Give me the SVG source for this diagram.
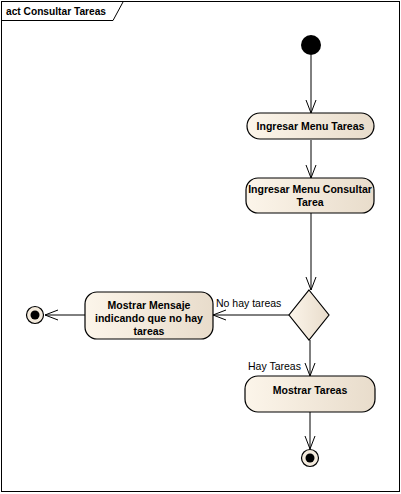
<svg xmlns="http://www.w3.org/2000/svg" width="401" height="494" viewBox="0 0 401 494">
<defs>
<linearGradient id="g" x1="0" y1="0" x2="1" y2="0">
<stop offset="0" stop-color="#FCF5EA"/>
<stop offset="1" stop-color="#E8DCCB"/>
</linearGradient>
<marker id="a" markerWidth="14" markerHeight="12" refX="13" refY="6" orient="auto" markerUnits="userSpaceOnUse">
<path d="M0,1 L13,6 L0,11" fill="none" stroke="#000" stroke-width="1"/>
</marker>
</defs>
<style>
.n{fill:url(#g);stroke:#000;stroke-width:1.2}
.t{font-family:"Liberation Sans",Arial,sans-serif;font-size:10.5px;font-weight:bold;text-anchor:middle;fill:#000}
.l{font-family:"Liberation Sans",Arial,sans-serif;font-size:10.5px;fill:#000}
.e{stroke:#000;stroke-width:1;fill:none;marker-end:url(#a)}
</style>
<rect x="0" y="0" width="401" height="494" fill="#fff"/>
<g id="frame">
<rect x="1.5" y="1.5" width="398" height="490" fill="none" stroke="#000" stroke-width="1"/>
<path d="M1.5,20.5 H113 L123,2" fill="none" stroke="#000" stroke-width="1"/>
<text x="6" y="15" class="l" style="font-weight:bold;font-size:10.2px">act Consultar Tareas</text>
</g>
<g id="connectors">
<line class="e" x1="311" y1="55" x2="311" y2="113"/>
<line class="e" x1="311" y1="140" x2="311" y2="178"/>
<line class="e" x1="311" y1="213" x2="311" y2="290"/>
<line class="e" x1="289" y1="315" x2="213" y2="315"/>
<line class="e" x1="85" y1="315" x2="45" y2="315"/>
<line class="e" x1="310" y1="340" x2="310" y2="376"/>
<line class="e" x1="310" y1="412" x2="310" y2="449"/>
<text x="216" y="307" class="l">No hay tareas</text>
<text x="248" y="370" class="l">Hay Tareas</text>
</g>
<g id="start"><circle cx="311" cy="45" r="10" fill="#000"/></g>
<g id="n1"><rect class="n" x="247" y="113" width="127" height="26" rx="13"/><text class="t" x="310.5" y="130">Ingresar Menu Tareas</text></g>
<g id="n2"><rect class="n" x="246" y="178" width="128" height="35" rx="12"/><text class="t" x="310" y="193">Ingresar Menu Consultar</text><text class="t" x="310" y="206">Tarea</text></g>
<g id="d"><path class="n" d="M309,290 L329,315 L309,340 L289,315 Z"/></g>
<g id="n3"><rect class="n" x="85" y="292" width="128" height="47" rx="12"/><text class="t" x="149" y="309">Mostrar Mensaje</text><text class="t" x="149" y="322">indicando que no hay</text><text class="t" x="149" y="335">tareas</text></g>
<g id="f1"><circle cx="35" cy="315" r="8.5" fill="#F3EADC" stroke="#000" stroke-width="1.2"/><circle cx="35" cy="315" r="4.5" fill="#000"/></g>
<g id="n4"><rect class="n" x="245" y="376" width="130" height="36" rx="13"/><text class="t" x="310" y="394">Mostrar Tareas</text></g>
<g id="f2"><circle cx="310" cy="458" r="8.5" fill="#F3EADC" stroke="#000" stroke-width="1.2"/><circle cx="310" cy="458" r="4.5" fill="#000"/></g>
</svg>
